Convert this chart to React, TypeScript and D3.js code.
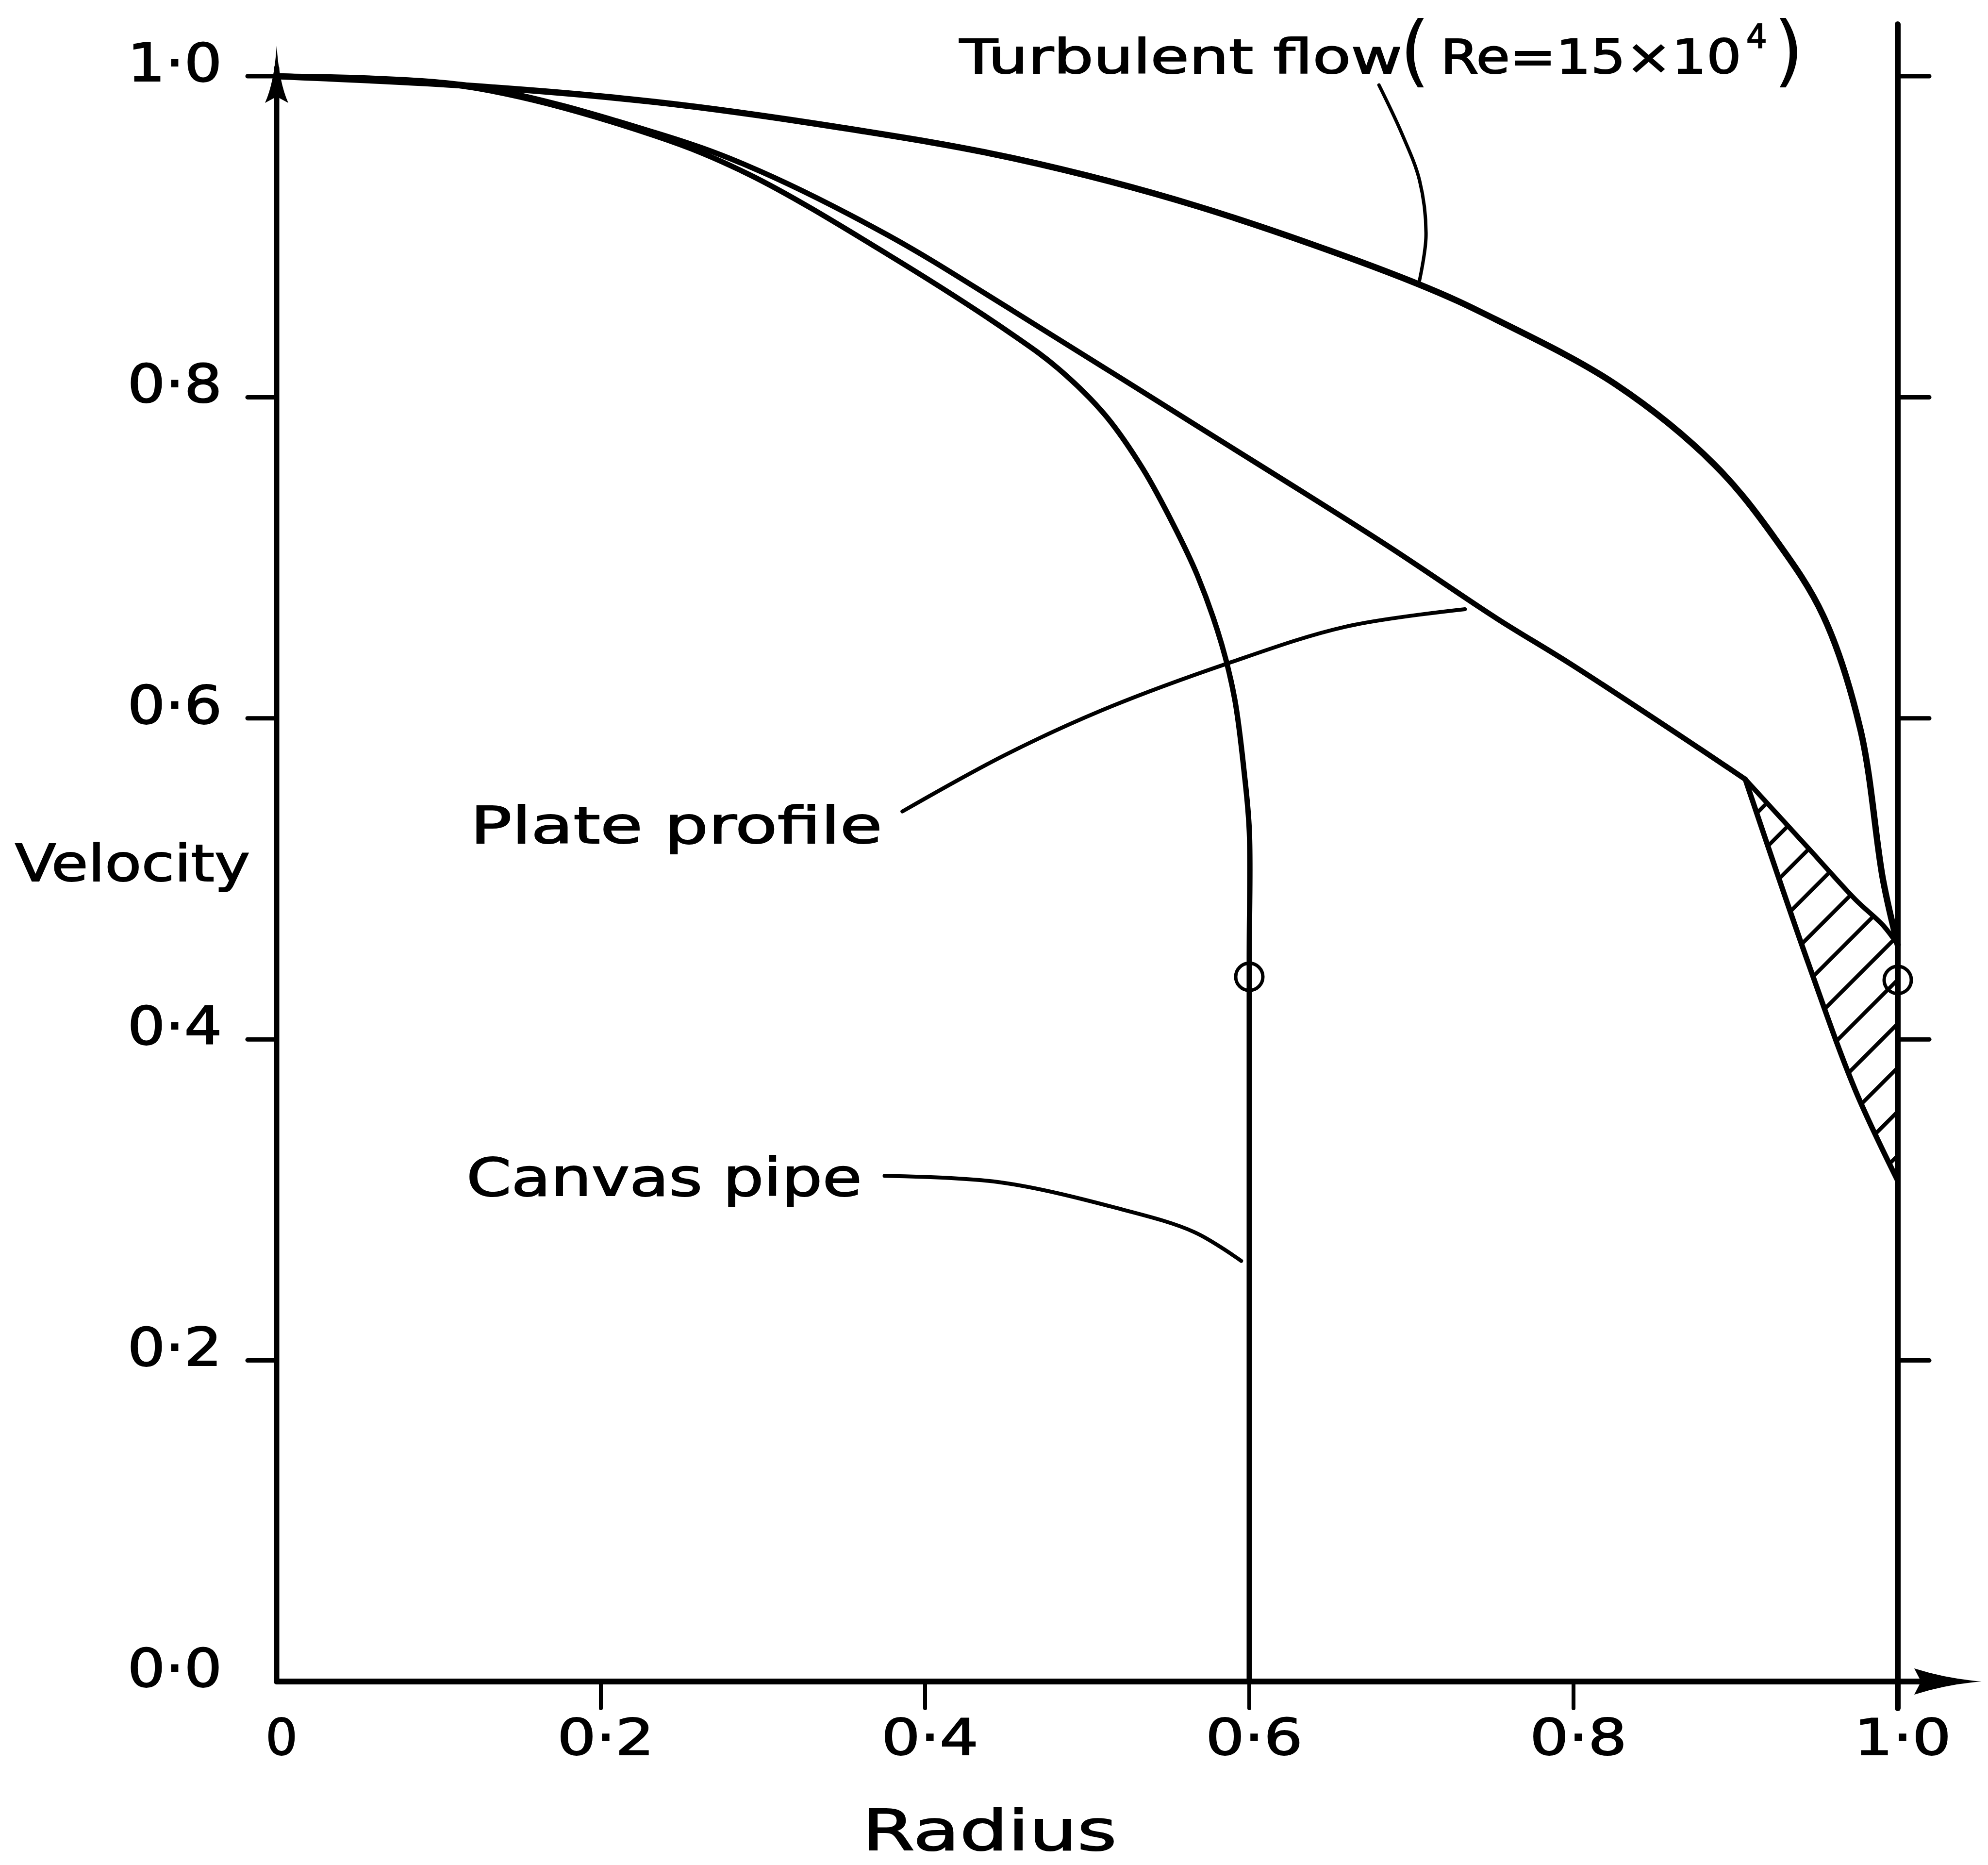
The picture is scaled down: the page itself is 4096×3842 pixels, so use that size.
import * as d3 from 'd3'
import { useEffect, useRef } from 'react'

const W = 4096
const H = 3842
const FONT = '"DejaVu Sans", sans-serif'

// radius (r/R) and velocity (u/U)
const turbulentR = [0, 0.119, 0.233, 0.348, 0.454, 0.568, 0.703, 0.753, 0.826, 0.887, 0.925, 0.954, 0.977, 0.991, 1.0]
const turbulentU = [1.0, 0.994, 0.984, 0.968, 0.949, 0.919, 0.871, 0.848, 0.808, 0.758, 0.711, 0.664, 0.593, 0.499, 0.459]

const plateR = [0, 0.12, 0.233, 0.291, 0.377, 0.454, 0.568, 0.683, 0.753, 0.798, 0.878, 0.906]
const plateU = [1.0, 0.994, 0.965, 0.944, 0.901, 0.854, 0.782, 0.709, 0.662, 0.634, 0.581, 0.562]
// plate profile below the kink, down to the wall
const plateTailR = [0.906, 0.945, 0.974, 1.0]
const plateTailU = [0.562, 0.447, 0.368, 0.312]
// top edge of the hatched wedge
const wedgeR = [0.906, 0.945, 0.974, 0.991, 1.0]
const wedgeU = [0.562, 0.519, 0.487, 0.471, 0.459]

const canvasR = [0, 0.12, 0.233, 0.291, 0.377, 0.454, 0.482, 0.511, 0.534, 0.553, 0.568, 0.583, 0.591, 0.597, 0.6, 0.6, 0.6]
const canvasU = [1.0, 0.993, 0.963, 0.939, 0.889, 0.839, 0.818, 0.789, 0.756, 0.721, 0.689, 0.646, 0.612, 0.565, 0.53, 0.45, 0]

const markerR = [0.6, 1.0]
const markerU = [0.439, 0.437]

// label leader lines
const turbLeaderR = [0.68, 0.694, 0.705, 0.709, 0.705]
const turbLeaderU = [0.9945, 0.9645, 0.9352, 0.9005, 0.8728]
const plateLeaderR = [0.386, 0.449, 0.509, 0.586, 0.659, 0.733]
const plateLeaderU = [0.542, 0.577, 0.605, 0.634, 0.657, 0.668]
const canvasLeaderR = [0.375, 0.446, 0.518, 0.566, 0.595]
const canvasLeaderU = [0.315, 0.311, 0.295, 0.28, 0.262]

const xTicks = [0, 0.2, 0.4, 0.6, 0.8, 1.0]
const xTickLabels = ['0', '0·2', '0·4', '0·6', '0·8', '1·0']
const yTicks = [0, 0.2, 0.4, 0.6, 0.8, 1.0]
const yTickLabels = ['0·0', '0·2', '0·4', '0·6', '0·8', '1·0']

const zip = (rs: number[], us: number[]) => rs.map((r, i) => [r, us[i]] as [number, number])

export default function App() {
  const ref = useRef<SVGSVGElement>(null)

  useEffect(() => {
    if (!ref.current) return
    const svg = d3.select(ref.current)
    svg.selectAll('*').remove()
    svg.append('rect').attr('width', W).attr('height', H).attr('fill', '#fff')

    const x = d3.scaleLinear().domain([0, 1]).range([570, 3910])
    const y = d3.scaleLinear().domain([0, 1]).range([3464, 157])
    const x0 = x(0)
    const y0 = y(0)
    const x1 = x(1)

    const curve = d3.line<[number, number]>()
      .x((d) => x(d[0]))
      .y((d) => y(d[1]))
      .curve(d3.curveCatmullRom.alpha(0.5))

    // hatch pattern for the wedge
    const defs = svg.append('defs')
    const pat = defs.append('pattern')
      .attr('id', 'hatch')
      .attr('patternUnits', 'userSpaceOnUse')
      .attr('width', 64)
      .attr('height', 64)
      .attr('patternTransform', 'rotate(-45)')
    pat.append('line')
      .attr('x1', -2).attr('x2', 66).attr('y1', 32).attr('y2', 32)
      .attr('stroke', '#000').attr('stroke-width', 8)

    const wedgePts = zip(wedgeR, wedgeU).concat(zip(plateTailR, plateTailU).reverse())
    svg.append('path')
      .attr('d', d3.line<[number, number]>().x((d) => x(d[0])).y((d) => y(d[1])).curve(d3.curveLinearClosed)(wedgePts))
      .attr('fill', 'url(#hatch)')

    // axes
    const ax = svg.append('g').attr('stroke', '#000').attr('fill', 'none').attr('stroke-linecap', 'round')
    ax.append('line').attr('x1', x0).attr('y1', y0).attr('x2', x0).attr('y2', 140).attr('stroke-width', 11)
    ax.append('line').attr('x1', x0).attr('y1', y0).attr('x2', 3990).attr('y2', y0).attr('stroke-width', 12)
    ax.append('line').attr('x1', x1).attr('y1', 50).attr('x2', x1).attr('y2', y0 + 55).attr('stroke-width', 12)

    yTicks.filter((t) => t > 0).forEach((t) => {
      ax.append('line').attr('x1', x0 - 60).attr('x2', x0).attr('y1', y(t)).attr('y2', y(t)).attr('stroke-width', 9)
      ax.append('line').attr('x1', x1).attr('x2', x1 + 65).attr('y1', y(t)).attr('y2', y(t)).attr('stroke-width', 9)
    })
    xTicks.filter((t) => t > 0).forEach((t) => {
      ax.append('line').attr('x1', x(t)).attr('x2', x(t)).attr('y1', y0).attr('y2', y0 + 55).attr('stroke-width', 8)
    })

    // arrow heads
    svg.append('path')
      .attr('d', `M${x0},94 Q${x0 + 5},170 ${x0 + 24},212 L${x0},199 L${x0 - 24},212 Q${x0 - 5},170 ${x0},94 Z`)
      .attr('fill', '#000')
    svg.append('path')
      .attr('d', `M4083,${y0} Q4010,${y0 - 6} 3944,${y0 - 27} L3958,${y0} L3944,${y0 + 27} Q4010,${y0 + 6} 4083,${y0} Z`)
      .attr('fill', '#000')

    // profiles
    const lines = svg.append('g').attr('fill', 'none').attr('stroke', '#000').attr('stroke-linejoin', 'round').attr('stroke-linecap', 'round')
    lines.append('path').attr('d', curve(zip(turbulentR, turbulentU))).attr('stroke-width', 13)
    lines.append('path').attr('d', curve(zip(plateR, plateU))).attr('stroke-width', 11)
    lines.append('path').attr('d', curve(zip(plateTailR, plateTailU))).attr('stroke-width', 11)
    lines.append('path').attr('d', curve(zip(wedgeR, wedgeU))).attr('stroke-width', 10)
    lines.append('path').attr('d', curve(zip(canvasR, canvasU))).attr('stroke-width', 11)

    lines.append('path').attr('d', curve(zip(turbLeaderR, turbLeaderU))).attr('stroke-width', 7)
    lines.append('path').attr('d', curve(zip(plateLeaderR, plateLeaderU))).attr('stroke-width', 8)
    lines.append('path').attr('d', curve(zip(canvasLeaderR, canvasLeaderU))).attr('stroke-width', 8)

    lines.selectAll('circle.m')
      .data(zip(markerR, markerU))
      .join('circle')
      .attr('cx', (d) => x(d[0]))
      .attr('cy', (d) => y(d[1]))
      .attr('r', 28)
      .attr('stroke-width', 7)

    // tick labels
    const txt = svg.append('g')
      .attr('font-family', FONT)
      .attr('fill', '#000')
      .attr('stroke', '#000')
      .attr('stroke-width', 2)
    yTicks.forEach((t, i) => {
      txt.append('text')
        .attr('x', 360).attr('y', y(t) + 10)
        .attr('text-anchor', 'middle')
        .attr('font-size', 108)
        .attr('textLength', 195)
        .attr('lengthAdjust', 'spacingAndGlyphs')
        .text(yTickLabels[i])
    })
    xTicks.forEach((t, i) => {
      const el = txt.append('text')
        .attr('x', x(t) + 10).attr('y', 3615)
        .attr('text-anchor', 'middle')
        .attr('font-size', 104)
        .text(xTickLabels[i])
      if (t > 0) el.attr('textLength', 200).attr('lengthAdjust', 'spacingAndGlyphs')
    })

    // axis titles and annotations
    const label = (s: string, lx: number, ly: number, size: number, len?: number) => {
      const el = txt.append('text').attr('x', lx).attr('y', ly).attr('font-size', size).text(s)
      if (len) el.attr('textLength', len).attr('lengthAdjust', 'spacingAndGlyphs')
      return el
    }
    label('Velocity', 31, 1815, 105, 484)
    label('Radius', 1776, 3811, 115, 525)
    label('Plate profile', 969, 1737, 106, 849)
    label('Canvas pipe', 961, 2463, 108, 815)
    label('Turbulent flow', 1977, 151, 98, 912)
    label('(', 2884, 159, 160).attr('stroke-width', 0)
    label('Re=15×10', 2968, 151, 98, 620)
    label('4', 3598, 99, 67)
    label(')', 3654, 159, 160).attr('stroke-width', 0)
  }, [])

  return (
    <svg
      ref={ref}
      width={W}
      height={H}
      viewBox={`0 0 ${W} ${H}`}
      style={{ position: 'absolute', left: 0, top: 0, display: 'block' }}
    />
  )
}
